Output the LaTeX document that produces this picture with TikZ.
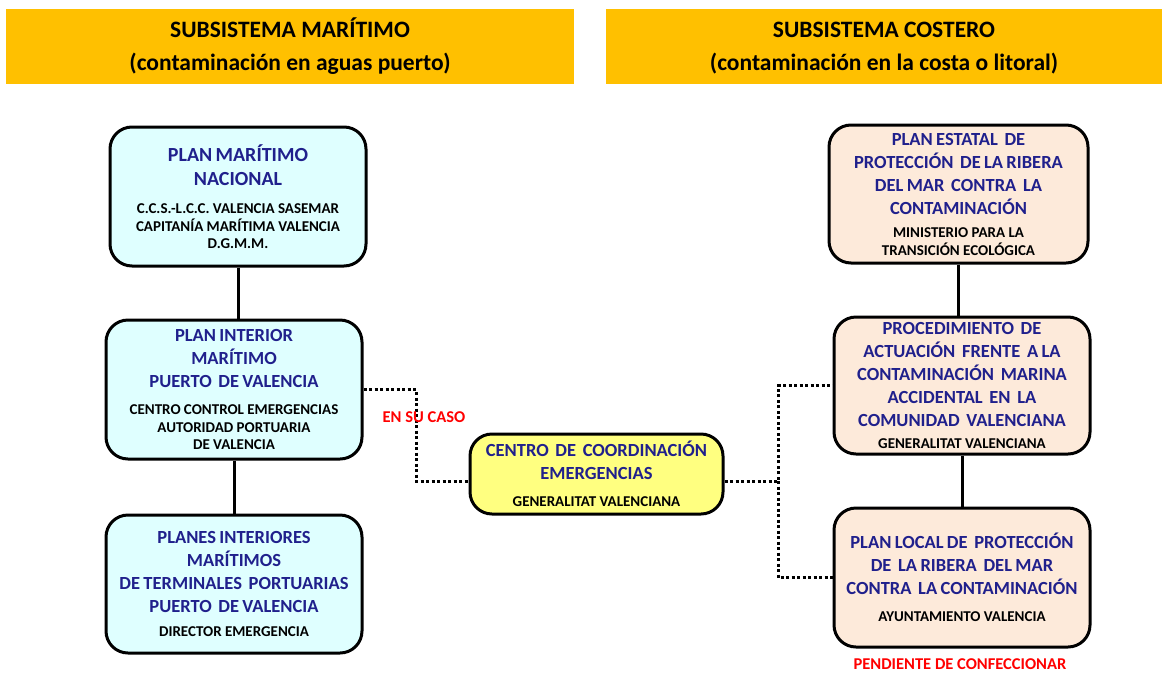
\documentclass[tikz,border=0pt]{standalone}
\usepackage{fontspec}
\setmainfont{Carlito}
\usepackage{tikz}
\usetikzlibrary{positioning}
\definecolor{hdrorange}{RGB}{255,192,0}
\definecolor{marfill}{RGB}{223,255,255}
\definecolor{cosfill}{RGB}{253,234,218}
\definecolor{ccfill}{RGB}{255,255,128}
\definecolor{titleblue}{RGB}{32,32,140}
\newcommand{\ptitle}[2][18.5]{{\color{titleblue}\fontsize{#1}{23}\selectfont #2\par}}
\newcommand{\psub}[2][8pt]{\vspace{#1}{\fontsize{15}{17.5}\selectfont #2\par}}
\tikzset{font=\bfseries}
\tikzset{
  hdr/.style={fill=hdrorange, minimum height=75pt, inner sep=0pt, align=center,
    font=\bfseries\fontsize{23.5}{33}\selectfont},
  planbox/.style={draw=black, line width=3pt, rounded corners=22pt, minimum width=256pt,
    minimum height=139pt, inner sep=0pt, text width=250pt, align=center},
  mar/.style={planbox, fill=marfill},
  cos/.style={planbox, fill=cosfill},
  link/.style={line width=3pt},
  optlink/.style={line width=3pt, dash pattern=on 3pt off 2.5pt},
  note/.style={text=red, font=\bfseries\fontsize{16.5}{19}\selectfont}
}

\begin{document}
\begin{tikzpicture}[x=1pt, y=-1pt]
  \useasboundingbox (0,0) rectangle (1166,675);

  \fill[hdrorange] (6,9) rectangle (574,84);
  \fill[hdrorange] (606,9) rectangle (1162,84);
  \node[align=center, font=\bfseries\fontsize{23.5}{33}\selectfont] (hmar) at (290,44.5)
    {\strut SUBSISTEMA MARÍTIMO\\(contaminación en aguas puerto)};
  \node[align=center, font=\bfseries\fontsize{23.5}{33}\selectfont] (hcos) at (884,44.5)
    {\strut SUBSISTEMA COSTERO\\(contaminación en la costa o litoral)};

  \node[mar] (pmn) at (238,196.5) {{\color{titleblue}\fontsize{20}{24}\selectfont PLAN MARÍTIMO\\NACIONAL\par}
    \psub[11pt]{C.C.S.-L.C.C. VALENCIA SASEMAR\\CAPITANÍA MARÍTIMA VALENCIA\\D.G.M.M.}};
  \node[mar] (pim) at (234,389.5) {\ptitle{PLAN INTERIOR\\MARÍTIMO\\PUERTO~ DE VALENCIA}
    \psub[10pt]{CENTRO CONTROL EMERGENCIAS\\AUTORIDAD PORTUARIA\\DE VALENCIA}};
  \node[mar, minimum height=138pt] (pimt) at (234,584) {\ptitle{PLANES INTERIORES\\MARÍTIMOS\\DE TERMINALES~ PORTUARIAS\\PUERTO~ DE VALENCIA}
    \psub[6pt]{DIRECTOR EMERGENCIA}};

  \node[planbox, fill=ccfill, minimum width=253pt, minimum height=80pt] (cce) at (596.5,474)
    {\ptitle{CENTRO~ DE~ COORDINACIÓN\\EMERGENCIAS}
    \psub[10pt]{GENERALITAT VALENCIANA}};

  \node[cos, minimum width=259pt, minimum height=138pt] (pes) at (958.5,194)
    {\ptitle{PLAN ESTATAL~ DE\\PROTECCIÓN~ DE LA RIBERA\\DEL MAR~ CONTRA~ LA\\CONTAMINACIÓN}
    \psub[6pt]{MINISTERIO PARA LA\\TRANSICIÓN ECOLÓGICA}};
  \node[cos, minimum height=137pt] (pcv) at (962,385.5)
    {\ptitle{PROCEDIMIENTO~ DE\\ACTUACIÓN~ FRENTE~ A LA\\CONTAMINACIÓN~ MARINA\\ACCIDENTAL~ EN~ LA\\COMUNIDAD~ VALENCIANA}
    \psub[4pt]{GENERALITAT VALENCIANA}};
  \node[cos] (plp) at (962,577.5)
    {\ptitle{PLAN LOCAL DE~ PROTECCIÓN\\DE~ LA RIBERA~ DEL MAR\\CONTRA~ LA CONTAMINACIÓN}
    \psub[9pt]{AYUNTAMIENTO VALENCIA}};

  \draw[link] (pmn.south) -- (pmn.south |- pim.north);
  \draw[link] (pim.south) -- (pim.south |- pimt.north);
  \draw[link] (pes.south) -- (pes.south |- pcv.north);
  \draw[link] (pcv.south) -- (pcv.south |- plp.north);

  \coordinate (jl) at (416,481);
  \coordinate (jr) at (778,481);
  \draw[optlink] (pim.east) -| (jl) -- (cce.west |- jl);
  \draw[optlink] (cce.east |- jr) -- (jr) |- (pcv.west);
  \draw[optlink] (jr) |- (plp.west);

  \node[note] (ensucaso) at (424,417) {EN SU CASO};
  \node[note] (pendiente) at (960,664) {PENDIENTE DE CONFECCIONAR};
\end{tikzpicture}
\end{document}
